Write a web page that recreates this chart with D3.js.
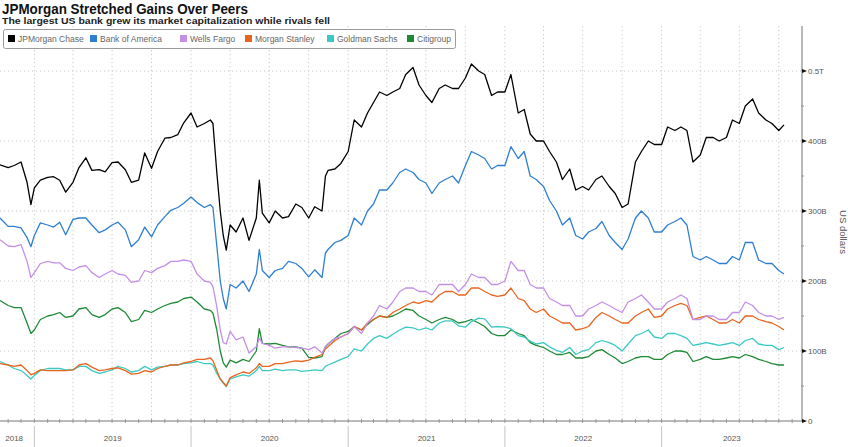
<!DOCTYPE html>
<html><head><meta charset="utf-8">
<script src="https://cdn.jsdelivr.net/npm/d3@7"></script>
<style>body{margin:0;background:#fff;} svg{display:block;font-family:"Liberation Sans",Arial,sans-serif;}</style>
</head><body><svg id="chart" width="848" height="447"></svg>
<script>
const dates = [
"2018-10-13","2018-11-01","2018-11-15","2018-12-01","2018-12-15","2018-12-24",
"2019-01-01","2019-01-15","2019-02-01","2019-02-15","2019-03-01","2019-03-15","2019-04-01","2019-04-15","2019-05-01","2019-05-15","2019-06-01","2019-06-15",
"2019-07-01","2019-07-15","2019-08-01","2019-08-15","2019-09-01","2019-09-15","2019-10-01","2019-10-15","2019-11-01","2019-11-15","2019-12-01","2019-12-15",
"2020-01-01","2020-01-15","2020-02-01","2020-02-15","2020-02-21","2020-03-01","2020-03-09","2020-03-16","2020-03-23","2020-04-01","2020-04-15","2020-05-01","2020-05-15",
"2020-06-01","2020-06-08","2020-06-15","2020-07-01","2020-07-15","2020-08-01","2020-08-15","2020-09-01","2020-09-15","2020-10-01","2020-10-15","2020-11-01","2020-11-09","2020-11-15","2020-12-01","2020-12-15",
"2021-01-01","2021-01-15","2021-02-01","2021-02-15","2021-03-01","2021-03-15","2021-04-01","2021-04-15","2021-05-01","2021-05-15","2021-06-01","2021-06-15",
"2021-07-01","2021-07-15","2021-08-01","2021-08-15","2021-09-01","2021-09-15","2021-10-01","2021-10-15","2021-11-01","2021-11-15","2021-12-01","2021-12-15",
"2022-01-01","2022-01-15","2022-02-01","2022-02-15","2022-03-01","2022-03-15","2022-04-01","2022-04-15","2022-05-01","2022-05-15","2022-06-01","2022-06-15",
"2022-07-01","2022-07-15","2022-08-01","2022-08-15","2022-09-01","2022-09-15","2022-10-01","2022-10-15","2022-11-01","2022-11-15","2022-12-01","2022-12-15",
"2023-01-01","2023-01-15","2023-02-01","2023-02-15","2023-03-01","2023-03-15","2023-04-01","2023-04-15","2023-05-01","2023-05-15","2023-06-01","2023-06-15",
"2023-07-01","2023-07-15","2023-08-01","2023-08-15","2023-09-01","2023-09-15","2023-10-01","2023-10-13"
];
// market capitalization, billions of US dollars
const jpm = [
366,362,365,370,341,309,
333,344,348,349,344,327,341,362,376,358,359,356,369,370,359,341,344,383,361,385,404,405,409,426,
440,420,425,430,425,355,300,265,244,280,270,290,258,290,344,297,283,300,290,292,310,305,290,306,300,350,358,360,368,
385,430,420,440,455,470,465,470,475,495,505,480,465,455,475,480,475,475,490,510,500,495,465,470,
470,495,440,445,410,400,400,385,370,345,360,330,335,330,345,350,335,325,305,310,370,385,400,395,
395,420,415,420,415,370,380,405,405,400,405,430,425,450,460,440,430,425,415,423
];
const bac = [
290,278,278,276,262,249,
265,283,280,277,284,266,288,290,290,280,269,273,280,284,273,249,259,277,263,280,292,301,305,311,
320,312,305,309,305,250,200,175,160,195,190,200,185,210,245,215,205,215,218,228,225,218,206,216,205,240,245,255,258,
265,290,280,300,310,330,330,340,355,360,355,345,340,325,340,345,350,340,365,385,380,375,360,365,
365,392,375,385,350,345,335,315,300,280,290,265,260,270,275,285,265,255,245,260,290,300,290,270,
270,280,285,290,280,235,230,235,230,225,225,235,230,255,255,230,225,225,215,210
];
const wfc = [
259,250,249,252,228,205,
212,225,228,226,226,218,215,220,222,212,205,210,215,210,208,198,200,215,212,218,222,228,228,230,
228,210,200,198,192,163,130,112,110,128,116,120,97,106,118,111,108,104,106,106,105,104,102,106,97,106,110,118,120,
125,135,125,140,150,165,160,170,185,190,190,185,185,180,195,195,195,185,195,210,205,205,195,195,
200,228,215,215,195,190,190,175,170,165,165,150,150,160,165,170,165,160,155,170,175,180,170,160,
160,170,175,180,175,145,145,150,150,145,145,155,155,170,165,155,150,150,145,148
];
const ms = [
82,80,78,80,72,66,
68,73,72,72,72,72,73,80,82,77,72,73,75,76,72,67,68,72,70,75,78,80,80,83,
85,88,88,90,86,72,60,55,50,62,66,70,68,76,82,78,78,82,82,84,86,85,87,91,95,103,106,115,120,
125,135,130,140,145,150,148,155,160,165,170,168,172,170,180,185,185,180,180,190,190,185,180,178,
180,190,175,172,160,155,160,150,145,140,140,130,132,135,148,155,150,145,140,140,150,155,160,148,
150,160,165,168,165,145,148,150,145,140,140,145,140,150,150,145,142,140,135,130
];
const gs = [
85,80,75,72,65,60,
65,72,75,75,75,73,73,78,78,72,68,70,73,78,75,70,72,78,73,77,78,80,80,82,
83,85,82,82,80,68,60,54,49,60,63,66,64,72,78,72,72,74,72,73,73,71,72,73,72,78,80,84,88,
92,103,100,110,118,122,118,124,130,134,133,130,133,130,140,143,143,136,134,142,147,146,134,135,
134,132,122,120,114,110,112,106,101,98,105,95,100,102,112,115,112,108,100,110,122,125,130,120,
118,125,125,122,118,108,110,112,110,108,110,112,108,115,118,110,108,108,102,105
];
const citi = [
172,165,162,162,140,125,
130,145,150,152,155,148,150,160,162,152,148,152,160,162,155,142,145,158,155,160,165,168,170,175,
177,170,160,158,154,130,100,83,77,87,83,88,85,100,132,111,110,111,108,106,106,104,91,90,92,106,110,118,125,
128,135,130,138,145,150,148,150,155,160,158,150,145,140,145,148,145,140,142,145,140,135,125,122,
122,130,125,122,112,108,105,100,95,95,98,90,90,92,100,102,95,90,82,85,90,92,92,88,
88,95,100,100,98,85,88,92,88,88,90,92,90,95,92,88,85,82,80,80
];
const seriesNames = ["JPMorgan Chase","Bank of America","Wells Fargo","Morgan Stanley","Goldman Sachs","Citigroup"];
const seriesValues = [jpm, bac, wfc, ms, gs, citi];
const seriesColors = ["#000000","#2f7fd0","#c490e6","#e8651f","#3cc9c3","#1f8a34"];
const yTickValues = [0,100,200,300,400,500];
const yTickLabels = ["0","100B","200B","300B","400B","0.5T"];
const yearLabels = ["2018","2019","2020","2021","2022","2023"];

const svg = d3.select("#chart");
const parse = d3.timeParse("%Y-%m-%d");
const dts = dates.map(parse);
const plotL = 0, plotR = 802, plotT = 26, plotB = 421;
const x = d3.scaleTime().domain([parse("2018-10-13"), parse("2023-11-24")]).range([plotL, plotR]);
const y = d3.scaleLinear().domain([0, 500]).range([plotB, 71]);

// title
svg.append("text").attr("x",2).attr("y",14).attr("font-size",14).attr("font-weight","bold")
  .attr("fill","#111").attr("textLength",246).attr("lengthAdjust","spacingAndGlyphs")
  .text("JPMorgan Stretched Gains Over Peers");
svg.append("text").attr("x",2).attr("y",23.5).attr("font-size",8.6).attr("font-weight","bold")
  .attr("fill","#222").attr("textLength",328).attr("lengthAdjust","spacingAndGlyphs")
  .text("The largest US bank grew its market capitalization while rivals fell");

// grid
const g = svg.append("g");
const quarters = d3.timeMonth.every(3).range(parse("2018-12-31"), parse("2023-11-20"));
g.selectAll(".vg").data(quarters).join("line")
  .attr("x1",d=>x(d)).attr("x2",d=>x(d)).attr("y1",plotT).attr("y2",plotB)
  .attr("stroke","#c8c8c8").attr("stroke-width",1).attr("stroke-dasharray","1.2,2.8");
g.selectAll(".hg").data(yTickValues.slice(1)).join("line")
  .attr("x1",plotL).attr("x2",plotR).attr("y1",d=>y(d)).attr("y2",d=>y(d))
  .attr("stroke","#c8c8c8").attr("stroke-width",1).attr("stroke-dasharray","1.2,2.8");

// bottom axis
const months = d3.timeMonth.range(parse("2018-10-14"), parse("2023-11-24"));
g.append("line").attr("x1",plotL).attr("x2",plotR).attr("y1",plotB).attr("y2",plotB)
  .attr("stroke","#777").attr("stroke-width",1);
g.selectAll(".mt").data(months).join("line")
  .attr("x1",d=>x(d)).attr("x2",d=>x(d)).attr("y1",plotB-2).attr("y2",plotB+2)
  .attr("stroke","#888").attr("stroke-width",0.8);
const yearStarts = yearLabels.slice(1).map(s=>parse(s+"-01-01"));
g.selectAll(".ys").data(yearStarts).join("line")
  .attr("x1",d=>x(d)).attr("x2",d=>x(d)).attr("y1",426).attr("y2",447)
  .attr("stroke","#c4c4c4").attr("stroke-width",1);
const bounds = [plotL, ...yearStarts.map(d=>x(d)), plotR];
g.selectAll(".yl").data(yearLabels).join("text")
  .attr("x",(d,i)=>(bounds[i]+bounds[i+1])/2 - (i===0?3:0)).attr("y",441)
  .attr("text-anchor","middle").attr("font-size",8).attr("fill","#555").text(d=>d);

// right axis
g.append("line").attr("x1",plotR).attr("x2",plotR).attr("y1",plotT).attr("y2",plotB)
  .attr("stroke","#a8a8a8").attr("stroke-width",1.6);
const minor = d3.range(50, 500, 100);
g.selectAll(".mn").data(minor).join("line")
  .attr("x1",plotR-1).attr("x2",plotR+2).attr("y1",d=>y(d)).attr("y2",d=>y(d))
  .attr("stroke","#999").attr("stroke-width",1);
g.selectAll(".tm").data(yTickValues).join("path")
  .attr("d",d=>`M${plotR},${y(d)-2}L${plotR+5},${y(d)}L${plotR},${y(d)+2}Z`).attr("fill","#111");
g.selectAll(".tl").data(yTickValues).join("text")
  .attr("x",plotR+6).attr("y",d=>y(d)+3).attr("font-size",8).attr("fill","#555")
  .text((d,i)=>yTickLabels[i]);
svg.append("text").attr("transform","translate(840,232) rotate(90)")
  .attr("text-anchor","middle").attr("font-size",9.5).attr("fill","#555").text("US dollars");

// lines
const line = d3.line().x((d,i)=>x(dts[i])).y(d=>y(d));
const lg = svg.append("g");
for (let k = seriesValues.length-1; k >= 0; k--) {
  lg.append("path").datum(seriesValues[k]).attr("d",line)
    .attr("fill","none").attr("stroke",seriesColors[k]).attr("stroke-width",1.3)
    .attr("stroke-linejoin","round");
}

// legend
const leg = svg.append("g");
leg.append("rect").attr("x",3.5).attr("y",29.5).attr("width",452).attr("height",19).attr("rx",2)
  .attr("fill","#fff").attr("stroke","#9a9a9a").attr("stroke-width",1);
const legX = [8, 90, 180, 245, 327, 407];
seriesNames.forEach((n,i)=>{
  leg.append("rect").attr("x",legX[i]).attr("y",35).attr("width",7).attr("height",7).attr("fill",seriesColors[i]);
  leg.append("text").attr("x",legX[i]+10).attr("y",42).attr("font-size",8.5).attr("fill","#666").text(n);
});
</script></body></html>
